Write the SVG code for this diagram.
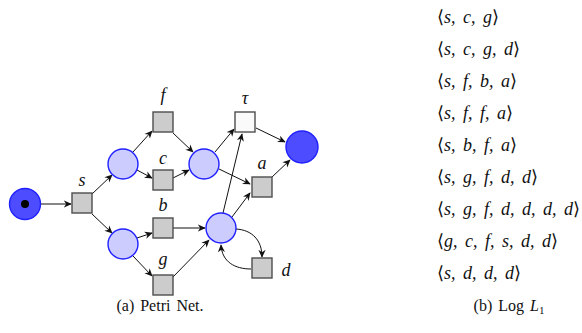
<svg xmlns="http://www.w3.org/2000/svg" width="582" height="333" viewBox="0 0 582 333">
<defs>
<marker id="arr" viewBox="0 0 10 10" refX="9" refY="5" markerWidth="8" markerHeight="8" markerUnits="userSpaceOnUse" orient="auto">
<path d="M0,0.5 L10,5 L0,9.5 L3,5 Z" fill="#111"/>
</marker>
<style>
.pl{fill:#ccccff;stroke:#2020ff;stroke-width:1.4}
.pd{fill:#4d4dff;stroke:#2020ff;stroke-width:1.4}
.tr{fill:#cccccc;stroke:#4d4d4d;stroke-width:1.4}
.tt{fill:#fafafa;stroke:#4d4d4d;stroke-width:1.4}
.lb{font-family:"Liberation Serif","DejaVu Serif",serif;font-style:italic;font-size:18px;fill:#111;text-anchor:middle}
.ar{fill:none;stroke:#111;stroke-width:1;marker-end:url(#arr)}
.lg{font-family:"Liberation Serif","DejaVu Serif",serif;font-style:italic;font-size:18px;fill:#111;word-spacing:3px}
.br{font-style:normal;font-family:"DejaVu Serif",serif}
.cap{font-family:"Liberation Serif","DejaVu Serif",serif;font-size:16px;fill:#111;text-anchor:middle;word-spacing:2px}
</style>
</defs>
<g id="connectors">
<path class="ar" d="M41,204 L71,204"/>
<path class="ar" d="M92,194 L112,175"/>
<path class="ar" d="M92,214 L112,233"/>
<path class="ar" d="M133,152 L152,131"/>
<path class="ar" d="M137,170 L152,178"/>
<path class="ar" d="M173,133 L193,152"/>
<path class="ar" d="M173,178 L189,170"/>
<path class="ar" d="M137,238 L152,233"/>
<path class="ar" d="M133,256 L152,276"/>
<path class="ar" d="M173,228 L205,228"/>
<path class="ar" d="M173,277 L209,240"/>
<path class="ar" d="M215,152 L234,129"/>
<path class="ar" d="M219,169 L250,184"/>
<path class="ar" d="M223,213 L242,134"/>
<path class="ar" d="M232,217 L250,193"/>
<path class="ar" d="M236,229 C252,230 262,240 262,257"/>
<path class="ar" d="M251,269 C235,269 222,262 221,245"/>
<path class="ar" d="M256,128 L285,142"/>
<path class="ar" d="M272,177 L290,160"/>
</g>
<g id="start"><circle class="pd" cx="25" cy="204" r="15.5"/><circle cx="25" cy="204" r="4" fill="#000"/></g>
<g id="t-s"><rect class="tr" x="72" y="193" width="20" height="20"/><text class="lb" x="82" y="186">s</text></g>
<g id="p1"><circle class="pl" cx="123" cy="164" r="15"/></g>
<g id="p2"><circle class="pl" cx="123" cy="244" r="15"/></g>
<g id="t-f"><rect class="tr" x="153" y="112" width="20" height="20"/><text class="lb" x="163" y="101">f</text></g>
<g id="t-c"><rect class="tr" x="153" y="170" width="20" height="20"/><text class="lb" x="163" y="164">c</text></g>
<g id="t-b"><rect class="tr" x="153" y="218" width="20" height="20"/><text class="lb" x="163" y="211">b</text></g>
<g id="t-g"><rect class="tr" x="153" y="275" width="20" height="20"/><text class="lb" x="163" y="265">g</text></g>
<g id="p3"><circle class="pl" cx="204" cy="164" r="15"/></g>
<g id="p4"><circle class="pl" cx="221" cy="228" r="15"/></g>
<g id="t-tau"><rect class="tt" x="235" y="112" width="20" height="20"/><text class="lb" x="245" y="104">τ</text></g>
<g id="t-a"><rect class="tr" x="252" y="177" width="20" height="20"/><text class="lb" x="262" y="169">a</text></g>
<g id="t-d"><rect class="tr" x="252" y="258" width="20" height="20"/><text class="lb" x="286" y="276">d</text></g>
<g id="end"><circle class="pd" cx="302" cy="147" r="16"/></g>
<g id="log">
<text class="lg" x="437" y="23"><tspan class="br">⟨</tspan>s, c, g<tspan class="br">⟩</tspan></text>
<text class="lg" x="437" y="55"><tspan class="br">⟨</tspan>s, c, g, d<tspan class="br">⟩</tspan></text>
<text class="lg" x="437" y="87"><tspan class="br">⟨</tspan>s, f, b, a<tspan class="br">⟩</tspan></text>
<text class="lg" x="437" y="119"><tspan class="br">⟨</tspan>s, f, f, a<tspan class="br">⟩</tspan></text>
<text class="lg" x="437" y="151"><tspan class="br">⟨</tspan>s, b, f, a<tspan class="br">⟩</tspan></text>
<text class="lg" x="437" y="183"><tspan class="br">⟨</tspan>s, g, f, d, d<tspan class="br">⟩</tspan></text>
<text class="lg" x="437" y="215"><tspan class="br">⟨</tspan>s, g, f, d, d, d, d<tspan class="br">⟩</tspan></text>
<text class="lg" x="437" y="247"><tspan class="br">⟨</tspan>g, c, f, s, d, d<tspan class="br">⟩</tspan></text>
<text class="lg" x="437" y="279"><tspan class="br">⟨</tspan>s, d, d, d<tspan class="br">⟩</tspan></text>
</g>
<text class="cap" x="160" y="311">(a) Petri Net.</text>
<text class="cap" x="509" y="311">(b) Log <tspan font-style="italic">L</tspan><tspan font-size="11" dy="3">1</tspan></text>
</svg>
